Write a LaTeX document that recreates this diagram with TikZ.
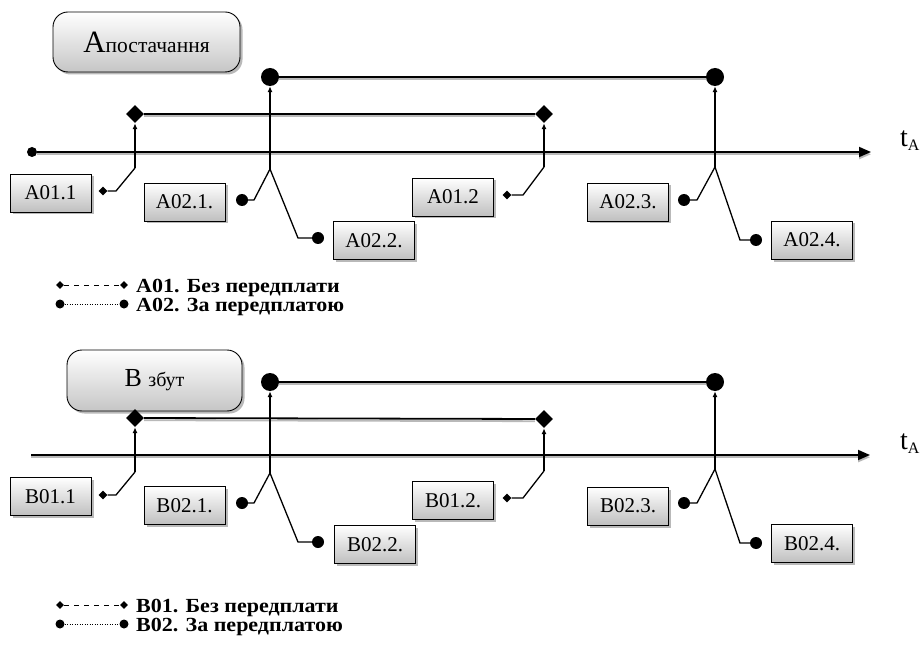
\documentclass[tikz,border=0pt]{standalone}
\usepackage{fontspec}
\setmainfont{Liberation Serif}
\newfontfamily\legfont{Liberation Serif}[FakeStretch=1.1]
\usetikzlibrary{arrows.meta,shapes.geometric,shadows}
\begin{document}
\begin{tikzpicture}[x=1pt,y=-1pt,
  lab/.style={draw, line width=0.9pt, top color=white, bottom color=gray!50,
    minimum width=81pt, minimum height=38pt, inner sep=0pt,
    font=\fontsize{21}{21}\selectfont,
    drop shadow={shadow xshift=2.5pt,shadow yshift=-2.5pt,fill=gray!55,opacity=1}},
  titlebox/.style={draw, line width=0.9pt, rounded corners=15pt, top color=white, bottom color=gray!45,
    inner sep=0pt,
    drop shadow={shadow xshift=2.5pt,shadow yshift=-2.5pt,fill=gray!55,opacity=1}},
  hline/.style={line width=1.8pt, preaction={draw=gray!55, line width=1.8pt, transform canvas={yshift=-2.2pt}}},
  vline/.style={line width=1.3pt, -{Latex[length=6pt,width=5pt]}},
  kline/.style={line width=1.3pt},
  bigdot/.style={circle, fill=black, minimum size=18pt, inner sep=0pt},
  bigdia/.style={diamond, fill=black, minimum size=18pt, inner sep=0pt},
  sdot/.style={circle, fill=black, minimum size=12pt, inner sep=0pt},
  sdia/.style={diamond, fill=black, minimum size=9pt, inner sep=0pt},
  stdot/.style={circle, fill=black, minimum size=10pt, inner sep=0pt},
  ldot/.style={circle, fill=black, minimum size=9pt, inner sep=0pt},
  ldia/.style={diamond, fill=black, minimum size=8pt, inner sep=0pt},
  legtext/.style={anchor=base west, inner sep=0pt, font=\legfont\fontsize{20}{20}\selectfont\bfseries},
  tatext/.style={anchor=base west, inner sep=0pt, font=\fontsize{28}{28}\selectfont}
]
\useasboundingbox (0,0) rectangle (921,663);

% ================= TOP PANEL =================
\node[titlebox, minimum width=187pt, minimum height=60pt] (tA) at (146.5,42)
  {\fontsize{31}{31}\selectfont А\fontsize{21.5}{21.5}\selectfont постачання};

% timeline
\node[stdot] (ts) at (32,152) {};
\coordinate (te) at (871,152);
\draw[hline, -{Triangle[length=12pt,width=10pt]}] (ts) -- (te);
\node[tatext] (ta) at (900,147) {t{\fontsize{16}{16}\selectfont\raisebox{-4pt}{A}}};

% markers and horizontal lines
\node[bigdot] (ca1) at (270,77) {};
\node[bigdot] (ca2) at (715,77) {};
\draw[hline] (ca1) -- (ca2);
\node[bigdia] (da1) at (135,114) {};
\node[bigdia] (da2) at (544,114) {};
\draw[hline] (da1) -- (da2);

% labels
\node[lab] (a011) at (50.5,193) {A01.1};
\node[lab] (a021) at (184.5,202) {A02.1.};
\node[lab] (a022) at (374,240.5) {A02.2.};
\node[lab] (a012) at (453,197) {A01.2};
\node[lab] (a023) at (628,202) {A02.3.};
\node[lab] (a024) at (812,240) {A02.4.};

% connectors A01.1
\node[sdia] (sa1) at (103,191) {};
\coordinate (pa1) at (116,191);
\coordinate (qa1) at (135,168);
\draw[kline] (sa1) -- (pa1) -- (qa1);
\draw[vline] (qa1) -- (da1);
% A02.1 / A02.2
\node[sdot] (sb1) at (242,200) {};
\coordinate (pb1) at (254,200);
\coordinate (qb1) at (270,169);
\coordinate (rb1) at (298,238);
\node[sdot] (sb2) at (318,238) {};
\draw[kline] (sb1) -- (pb1) -- (qb1);
\draw[vline] (qb1) -- (ca1);
\draw[kline] (qb1) -- (rb1) -- (sb2);
% A01.2
\node[sdia] (sa2) at (507,195) {};
\coordinate (pa2) at (523,195);
\coordinate (qa2) at (544,167);
\draw[kline] (sa2) -- (pa2) -- (qa2);
\draw[vline] (qa2) -- (da2);
% A02.3 / A02.4
\node[sdot] (sb3) at (684,200) {};
\coordinate (pb3) at (697,200);
\coordinate (qb3) at (715,167);
\coordinate (rb3) at (740,240);
\node[sdot] (sb4) at (756,240) {};
\draw[kline] (sb3) -- (pb3) -- (qb3);
\draw[vline] (qb3) -- (ca2);
\draw[kline] (qb3) -- (rb3) -- (sb4);

% legend top
\node[ldia] (la1) at (60,285) {};
\node[ldia] (la2) at (124,285) {};
\draw[line width=0.9pt, dash pattern=on 5pt off 5pt] (la1) -- (la2);
\node[legtext] (lta) at (136,292) {А01. Без передплати};
\node[ldot] (lb1) at (60,304) {};
\node[ldot] (lb2) at (124,304) {};
\draw[line width=0.5pt, dash pattern=on 1pt off 1.5pt] (lb1) -- (lb2);
\node[legtext] (ltb) at (136,311) {А02. За передплатою};

% ================= BOTTOM PANEL =================
\node[titlebox, minimum width=175pt, minimum height=61pt] (tB) at (154.5,380.5)
  {\fontsize{26}{26}\selectfont В \fontsize{20}{20}\selectfont збут};

\coordinate (bs) at (31,455);
\coordinate (be) at (870,455);
\draw[hline, -{Triangle[length=12pt,width=10pt]}] (bs) -- (be);
\node[tatext] (tb) at (900,449) {t{\fontsize{16}{16}\selectfont\raisebox{-4pt}{A}}};

\node[bigdot] (cb1) at (270,382) {};
\node[bigdot] (cb2) at (715,382) {};
\draw[hline] (cb1) -- (cb2);
\node[bigdia] (db1) at (135,418) {};
\node[bigdia] (db2) at (544,419) {};
\draw[hline] (db1) -- (db2);

\node[lab] (b011) at (50.5,496.5) {B01.1};
\node[lab] (b021) at (184.5,505.5) {B02.1.};
\node[lab] (b022) at (375,544.5) {B02.2.};
\node[lab] (b012) at (453,500.5) {B01.2.};
\node[lab] (b023) at (628,506) {B02.3.};
\node[lab] (b024) at (812,543.5) {B02.4.};

% connectors B01.1
\node[sdia] (ua1) at (103,495) {};
\coordinate (va1) at (116,495);
\coordinate (wa1) at (135,472);
\draw[kline] (ua1) -- (va1) -- (wa1);
\draw[vline] (wa1) -- (db1);
% B02.1 / B02.2
\node[sdot] (ub1) at (242,503) {};
\coordinate (vb1) at (254,503);
\coordinate (wb1) at (270,473);
\coordinate (xb1) at (298,542);
\node[sdot] (ub2) at (318,542) {};
\draw[kline] (ub1) -- (vb1) -- (wb1);
\draw[vline] (wb1) -- (cb1);
\draw[kline] (wb1) -- (xb1) -- (ub2);
% B01.2
\node[sdia] (ua2) at (507,498) {};
\coordinate (va2) at (523,498);
\coordinate (wa2) at (544,471);
\draw[kline] (ua2) -- (va2) -- (wa2);
\draw[vline] (wa2) -- (db2);
% B02.3 / B02.4
\node[sdot] (ub3) at (684,503) {};
\coordinate (vb3) at (697,503);
\coordinate (wb3) at (715,469);
\coordinate (xb3) at (740,543);
\node[sdot] (ub4) at (756,543) {};
\draw[kline] (ub3) -- (vb3) -- (wb3);
\draw[vline] (wb3) -- (cb2);
\draw[kline] (wb3) -- (xb3) -- (ub4);

% legend bottom
\node[ldia] (lc1) at (60,605) {};
\node[ldia] (lc2) at (124,605) {};
\draw[line width=0.9pt, dash pattern=on 5pt off 5pt] (lc1) -- (lc2);
\node[legtext] (ltc) at (136,612) {В01. Без передплати};
\node[ldot] (ld1) at (60,624) {};
\node[ldot] (ld2) at (124,624) {};
\draw[line width=0.5pt, dash pattern=on 1pt off 1.5pt] (ld1) -- (ld2);
\node[legtext] (ltd) at (136,631) {В02. За передплатою};
\end{tikzpicture}
\end{document}
